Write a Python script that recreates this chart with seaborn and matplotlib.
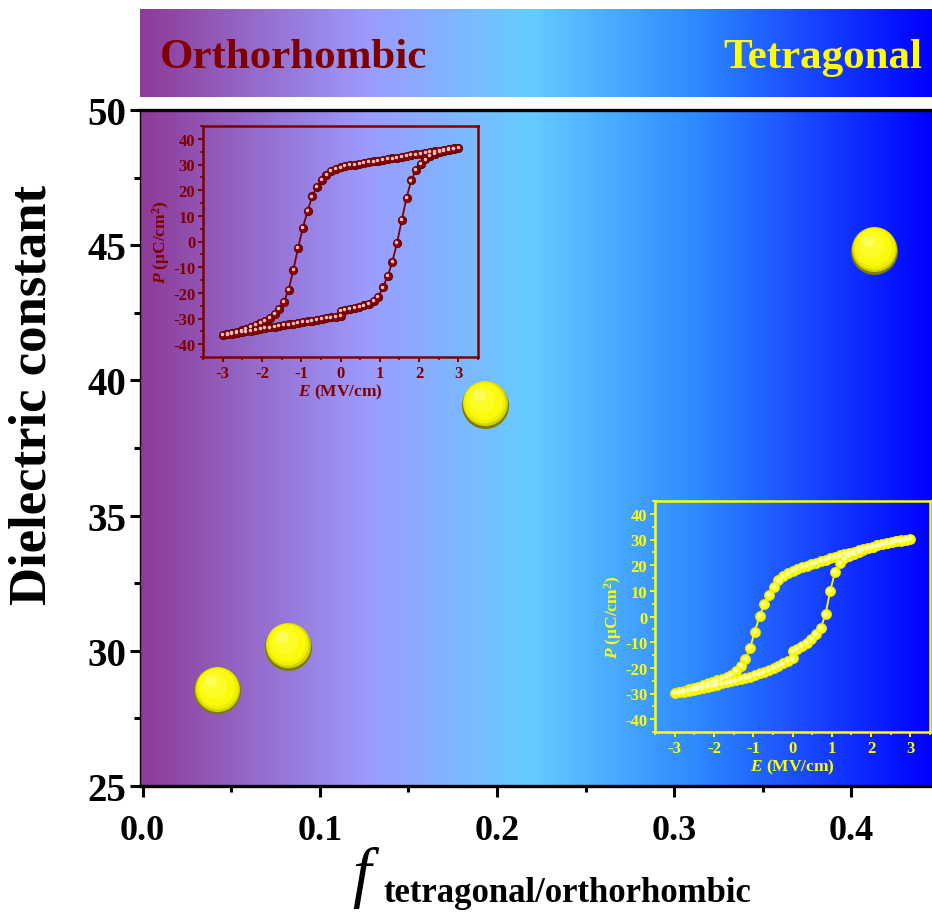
import numpy as np
import pandas as pd
import matplotlib
matplotlib.use('Agg')
import matplotlib.pyplot as plt
import seaborn as sns
from matplotlib.colors import LinearSegmentedColormap
from matplotlib.ticker import MultipleLocator
from matplotlib.transforms import offset_copy

# main data
f_tet = [0.042, 0.082, 0.193, 0.413]
eps = [28.6, 30.2, 39.15, 44.85]

# P-E loops: 0 -> 3, 3 -> -3, -3 -> 0 (MV/cm)
E_rise = [0.00, 0.12, 0.24, 0.36, 0.48, 0.60, 0.72, 0.84, 0.96, 1.08, 1.20, 1.32, 1.44,
          1.56, 1.68, 1.80, 1.92, 2.04, 2.16, 2.28, 2.40, 2.52, 2.64, 2.76, 2.88, 3.00]
E_fall = [2.88, 2.76, 2.64, 2.52, 2.40, 2.28, 2.16, 2.04, 1.92, 1.80, 1.68, 1.56, 1.44,
          1.32, 1.20, 1.08, 0.96, 0.84, 0.72, 0.60, 0.48, 0.36, 0.24, 0.12, 0.00, -0.12,
          -0.24, -0.36, -0.48, -0.60, -0.72, -0.84, -0.96, -1.08, -1.20, -1.32, -1.44,
          -1.56, -1.68, -1.80, -1.92, -2.04, -2.16, -2.28, -2.40, -2.52, -2.64, -2.76,
          -2.88, -3.00]
E_back = [-2.88, -2.76, -2.64, -2.52, -2.40, -2.28, -2.16, -2.04, -1.92, -1.80, -1.68,
          -1.56, -1.44, -1.32, -1.20, -1.08, -0.96, -0.84, -0.72, -0.60, -0.48, -0.36,
          -0.24, -0.12, 0.00]

# orthorhombic loop (dark red)
P_ortho_rise = [-27.0, -26.6, -26.2, -25.8, -25.4, -24.9, -24.2, -23.2, -21.5, -17.9, -13.5,
                -7.8, -0.5, 8.3, 17.0, 23.8, 27.8, 30.3, 32.0, 33.3, 34.2, 34.9, 35.4, 35.8,
                36.2, 36.6]
P_ortho_fall = [36.3, 36.0, 35.7, 35.4, 35.1, 34.8, 34.5, 34.2, 33.9, 33.6, 33.3, 33.0, 32.7,
                32.4, 32.1, 31.8, 31.5, 31.2, 30.9, 30.6, 30.3, 30.0, 29.7, 29.3, 28.9, 28.3,
                27.4, 26.0, 23.9, 21.4, 17.6, 11.8, 5.3, -2.5, -11.0, -18.8, -23.5, -26.4,
                -28.3, -29.8, -30.9, -31.8, -32.6, -33.3, -34.0, -34.6, -35.2, -35.7, -36.1,
                -36.5]
P_ortho_back = [-36.2, -35.9, -35.6, -35.3, -35.0, -34.7, -34.4, -34.1, -33.8, -33.5, -33.2,
                -32.9, -32.6, -32.3, -32.0, -31.7, -31.4, -31.1, -30.8, -30.5, -30.2, -29.9,
                -29.6, -29.3, -28.9]

# tetragonal loop (yellow)
P_tet_rise = [-13.6, -12.6, -11.5, -10.2, -8.6, -6.8, -4.5, 0.8, 9.9, 17.3, 20.9, 22.6, 23.6,
              24.5, 25.3, 26.0, 26.6, 27.2, 27.7, 28.2, 28.6, 29.0, 29.4, 29.7, 30.0, 30.3]
P_tet_fall = [30.0, 29.6, 29.3, 28.9, 28.5, 28.1, 27.7, 27.2, 26.8, 26.3, 25.8, 25.3, 24.8,
              24.3, 23.8, 23.3, 22.8, 22.2, 21.6, 21.0, 20.4, 19.8, 19.2, 18.5, 17.7, 16.8,
              15.6, 14.1, 11.5, 8.4, 4.8, 0.1, -5.9, -12.2, -16.6, -19.4, -21.3, -22.6, -23.5,
              -24.3, -24.9, -25.5, -26.1, -26.7, -27.3, -27.8, -28.4, -28.9, -29.4, -29.9]
P_tet_back = [-29.6, -29.3, -28.9, -28.5, -28.1, -27.7, -27.3, -26.9, -26.5, -26.1, -25.7,
              -25.3, -24.9, -24.4, -23.9, -23.4, -22.8, -22.2, -21.5, -20.8, -20.0, -19.2,
              -18.3, -17.3, -16.3]

grad_colors = ['#8E3A98', '#9C9CFF', '#66CCFF', '#2E8BFF', '#0000FF']
grad_stops = [0.0, 0.29, 0.49, 0.70, 1.0]

sns.set_style('ticks')
plt.rcParams['font.family'] = ['Liberation Serif', 'DejaVu Serif']
plt.rcParams['font.weight'] = 'bold'
plt.rcParams['mathtext.fontset'] = 'custom'
plt.rcParams['mathtext.rm'] = 'Liberation Serif:bold'
plt.rcParams['mathtext.it'] = 'Liberation Serif:italic:bold'
plt.rcParams['mathtext.bf'] = 'Liberation Serif:bold'
plt.rcParams['axes.unicode_minus'] = False
for k in ['text.color', 'axes.labelcolor', 'xtick.color', 'ytick.color', 'axes.edgecolor']:
    plt.rcParams[k] = 'black'

cmap = LinearSegmentedColormap.from_list('phase', list(zip(grad_stops, grad_colors)))
grad = np.linspace(0, 1, 512).reshape(1, -1)

W, H = 932, 920
fig = plt.figure(figsize=(W / 100, H / 100), dpi=100)

# banner
axb = fig.add_axes([140 / W, 1 - 98 / H, 792 / W, 88 / H])
axb.imshow(grad, cmap=cmap, aspect='auto', extent=[0, 1, 0, 1])
axb.set_xlim(0, 1)
axb.set_ylim(0, 1)
axb.axis('off')
axb.text(0.025, 0.34, 'Orthorhombic', color='#800000', fontsize=31, fontweight='bold',
         ha='left', va='baseline')
axb.text(0.988, 0.34, 'Tetragonal', color='#FFFF00', fontsize=31, fontweight='bold',
         ha='right', va='baseline')

# main axes
ax = fig.add_axes([140 / W, 1 - 787 / H, 792 / W, 676 / H])
ax.imshow(grad, cmap=cmap, aspect='auto', extent=[0, 1, 0, 1], transform=ax.transAxes,
          zorder=0)

df = pd.DataFrame({'f': f_tet, 'eps': eps})
# stacked discs give the shaded-sphere look
ball_layers = [(47, '#7c7c00', 0.0, -1.5, 1.0), (45, '#d2d200', 0.0, 0.0, 1.0),
               (42, '#efef00', -0.5, 1.0, 1.0), (37, '#fafa0a', -1.0, 2.0, 1.0),
               (26, '#ffff3a', -3.0, 4.0, 0.6), (12, '#ffff9a', -6.0, 8.0, 0.45)]
for i, (d, c, dx, dy, a) in enumerate(ball_layers):
    tr = offset_copy(ax.transData, fig=fig, x=dx, y=dy, units='dots')
    if i == 0:
        sns.scatterplot(data=df, x='f', y='eps', s=(d * 0.72) ** 2, color=c, linewidth=0,
                        ax=ax, zorder=5, legend=False, transform=tr)
    else:
        ax.scatter(df['f'], df['eps'], s=(d * 0.72) ** 2, color=c, linewidths=0,
                   transform=tr, zorder=5 + i, alpha=a)

ax.set_xlim(-0.0015, 0.4455)
ax.set_ylim(25, 50)
ax.xaxis.set_major_locator(MultipleLocator(0.1))
ax.xaxis.set_minor_locator(MultipleLocator(0.05))
ax.yaxis.set_major_locator(MultipleLocator(5))
ax.yaxis.set_minor_locator(MultipleLocator(2.5))
ax.xaxis.set_major_formatter(matplotlib.ticker.FormatStrFormatter('%.1f'))
ax.tick_params(axis='both', which='major', direction='out', width=2.2, length=7,
               labelsize=26, color='black', labelcolor='black')
ax.tick_params(axis='both', which='minor', direction='out', width=2.2, length=4, color='black')
ax.tick_params(axis='x', which='major', pad=12, length=8)
ax.tick_params(axis='y', which='major', pad=3, labelsize=28)
ax.spines['top'].set_linewidth(2.4)
ax.spines['bottom'].set_linewidth(2.4)
ax.spines['left'].set_linewidth(1.0)
ax.spines['right'].set_visible(False)
ax.set_xlabel('')
ax.set_ylabel('')
for lab in ax.get_xticklabels() + ax.get_yticklabels():
    lab.set_fontweight('bold')

fig.text(33 / W, 1 - 395 / H, 'Dielectric constant', rotation=90, ha='center', va='center',
         fontsize=38, fontweight='bold', color='black')
fig.text(352 / W, 1 - 895 / H, 'f', fontsize=48, style='italic', fontweight='normal',
         ha='left', va='baseline', color='black')
fig.text(383 / W, 1 - 902 / H, 'tetragonal/orthorhombic', fontsize=25, fontweight='bold',
         ha='left', va='baseline', color='black')


def loop_inset(rect, P_list, color, mfc, mec, hl, ms, hl_ms):
    ai = fig.add_axes(rect)
    ai.set_facecolor('none')
    E_all = E_rise + E_fall + E_back
    sns.lineplot(x=E_all, y=P_list, sort=False, estimator=None, color=color, linewidth=1.3,
                 marker='o', markersize=ms, markerfacecolor=mfc, markeredgecolor=mec,
                 markeredgewidth=0.6, ax=ai, zorder=3)
    tr = offset_copy(ai.transData, fig=fig, x=-0.8, y=0.8, units='dots')
    ai.plot(E_all, P_list, 'o', ms=hl_ms, color=hl, transform=tr, zorder=4)
    ai.set_xlim(-3.5, 3.5)
    ai.set_ylim(-45, 45)
    ai.xaxis.set_major_locator(MultipleLocator(1))
    ai.xaxis.set_minor_locator(MultipleLocator(0.5))
    ai.yaxis.set_major_locator(MultipleLocator(10))
    ai.yaxis.set_minor_locator(MultipleLocator(5))
    ai.tick_params(which='major', direction='out', length=3.5, width=1.4, color=color,
                   labelcolor=color, labelsize=12, pad=2)
    ai.tick_params(which='minor', direction='out', length=2, width=1.2, color=color)
    for s in ai.spines.values():
        s.set_color(color)
        s.set_linewidth(1.8)
    for lab in ai.get_xticklabels() + ai.get_yticklabels():
        lab.set_fontweight('bold')
    ai.set_xlabel(r'$\mathit{E}$ (MV/cm)', color=color, fontsize=12.5, fontweight='bold',
                  labelpad=1)
    ai.set_ylabel(r'$\mathit{P}$ (μC/cm$^{2}$)', color=color, fontsize=12.5,
                  fontweight='bold', labelpad=1)
    return ai


loop_inset([203 / W, 1 - 358 / H, 275 / W, 231 / H], P_ortho_rise + P_ortho_fall + P_ortho_back,
           '#800000', '#8B0000', '#5a0000', '#E8C0C0', 6.0, 1.5)
loop_inset([655 / W, 1 - 733 / H, 275 / W, 231 / H], P_tet_rise + P_tet_fall + P_tet_back,
           '#FFFF00', '#FFFF00', '#E6E600', '#FFFFC0', 7.2, 2.2)

fig.savefig('out.png', dpi=100)
